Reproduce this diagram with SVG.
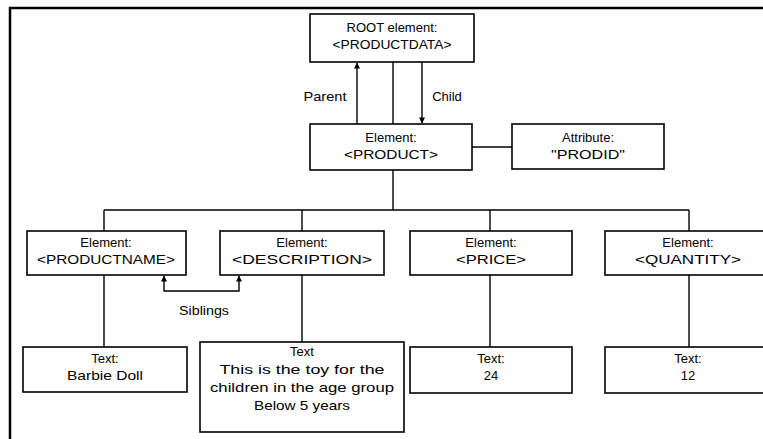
<svg xmlns="http://www.w3.org/2000/svg" width="763" height="439" viewBox="0 0 763 439">
<defs>
<style>
.box{fill:#fff;stroke:#000;stroke-width:1.6}
.ln{fill:none;stroke:#000;stroke-width:1.4}
text{font-family:"Liberation Sans",Arial,sans-serif;font-size:13px;fill:#000;text-anchor:middle}
</style>
<marker id="ah" viewBox="0 0 10 10" refX="9" refY="5" markerWidth="7" markerHeight="6" orient="auto-start-reverse" markerUnits="userSpaceOnUse">
<path d="M0,0 L10,5 L0,10 z" fill="#000"/>
</marker>
</defs>
<rect width="763" height="439" fill="#fff"/>
<g id="frame">
<path d="M10,439 V8 H763" fill="none" stroke="#000" stroke-width="2.5"/>
</g>
<g id="connectors">
<line class="ln" x1="357" y1="124" x2="357" y2="63" marker-end="url(#ah)"/>
<line class="ln" x1="393" y1="62" x2="393" y2="124"/>
<line class="ln" x1="422" y1="62" x2="422" y2="123" marker-end="url(#ah)"/>
<line class="ln" x1="472" y1="147" x2="512" y2="147"/>
<line class="ln" x1="393" y1="170" x2="393" y2="210"/>
<line class="ln" x1="104" y1="210" x2="689" y2="210"/>
<line class="ln" x1="104" y1="210" x2="104" y2="231"/>
<line class="ln" x1="302" y1="210" x2="302" y2="231"/>
<line class="ln" x1="490" y1="210" x2="490" y2="231"/>
<line class="ln" x1="689" y1="210" x2="689" y2="231"/>
<path class="ln" d="M164,276 V291 H239 V276" marker-start="url(#ah)" marker-end="url(#ah)"/>
<line class="ln" x1="104" y1="275" x2="104" y2="347"/>
<line class="ln" x1="302" y1="275" x2="302" y2="342"/>
<line class="ln" x1="490" y1="275" x2="490" y2="347"/>
<line class="ln" x1="689" y1="275" x2="689" y2="347"/>
<text x="325" y="101" textLength="43" lengthAdjust="spacingAndGlyphs">Parent</text>
<text x="447" y="101">Child</text>
<text x="204" y="315" textLength="50" lengthAdjust="spacingAndGlyphs">Siblings</text>
</g>
<g id="root">
<rect class="box" x="310" y="14" width="164" height="48"/>
<text x="392" y="32">ROOT element:</text>
<text x="392" y="49" textLength="119" lengthAdjust="spacingAndGlyphs">&lt;PRODUCTDATA&gt;</text>
</g>
<g id="product">
<rect class="box" x="310" y="124" width="162" height="46"/>
<text x="391" y="142">Element:</text>
<text x="391" y="159" textLength="94" lengthAdjust="spacingAndGlyphs">&lt;PRODUCT&gt;</text>
</g>
<g id="attribute">
<rect class="box" x="512" y="124" width="152" height="45"/>
<text x="588" y="142">Attribute:</text>
<text x="588" y="159" textLength="74" lengthAdjust="spacingAndGlyphs">"PRODID"</text>
</g>
<g id="productname">
<rect class="box" x="27" y="231" width="159" height="44"/>
<text x="106" y="247">Element:</text>
<text x="106" y="264" textLength="138" lengthAdjust="spacingAndGlyphs">&lt;PRODUCTNAME&gt;</text>
</g>
<g id="description">
<rect class="box" x="220" y="231" width="164" height="44"/>
<text x="302" y="247">Element:</text>
<text x="302" y="264" textLength="140" lengthAdjust="spacingAndGlyphs">&lt;DESCRIPTION&gt;</text>
</g>
<g id="price">
<rect class="box" x="410" y="231" width="162" height="44"/>
<text x="491" y="247">Element:</text>
<text x="491" y="264" textLength="70" lengthAdjust="spacingAndGlyphs">&lt;PRICE&gt;</text>
</g>
<g id="quantity">
<rect class="box" x="605" y="231" width="162" height="44"/>
<text x="688" y="247">Element:</text>
<text x="688" y="264" textLength="106" lengthAdjust="spacingAndGlyphs">&lt;QUANTITY&gt;</text>
</g>
<g id="text-barbie">
<rect class="box" x="23" y="347" width="164" height="45"/>
<text x="105" y="363">Text:</text>
<text x="105" y="380" textLength="76" lengthAdjust="spacingAndGlyphs">Barbie Doll</text>
</g>
<g id="text-description">
<rect class="box" x="200" y="342" width="204" height="90"/>
<text x="302" y="356">Text</text>
<text x="302" y="374" textLength="165" lengthAdjust="spacingAndGlyphs">This is the toy for the</text>
<text x="302" y="392" textLength="184" lengthAdjust="spacingAndGlyphs">children in the age group</text>
<text x="302" y="410" textLength="96" lengthAdjust="spacingAndGlyphs">Below 5 years</text>
</g>
<g id="text-price">
<rect class="box" x="410" y="347" width="162" height="46"/>
<text x="491" y="363">Text:</text>
<text x="491" y="380">24</text>
</g>
<g id="text-quantity">
<rect class="box" x="605" y="347" width="162" height="46"/>
<text x="688" y="363">Text:</text>
<text x="688" y="380">12</text>
</g>
</svg>
